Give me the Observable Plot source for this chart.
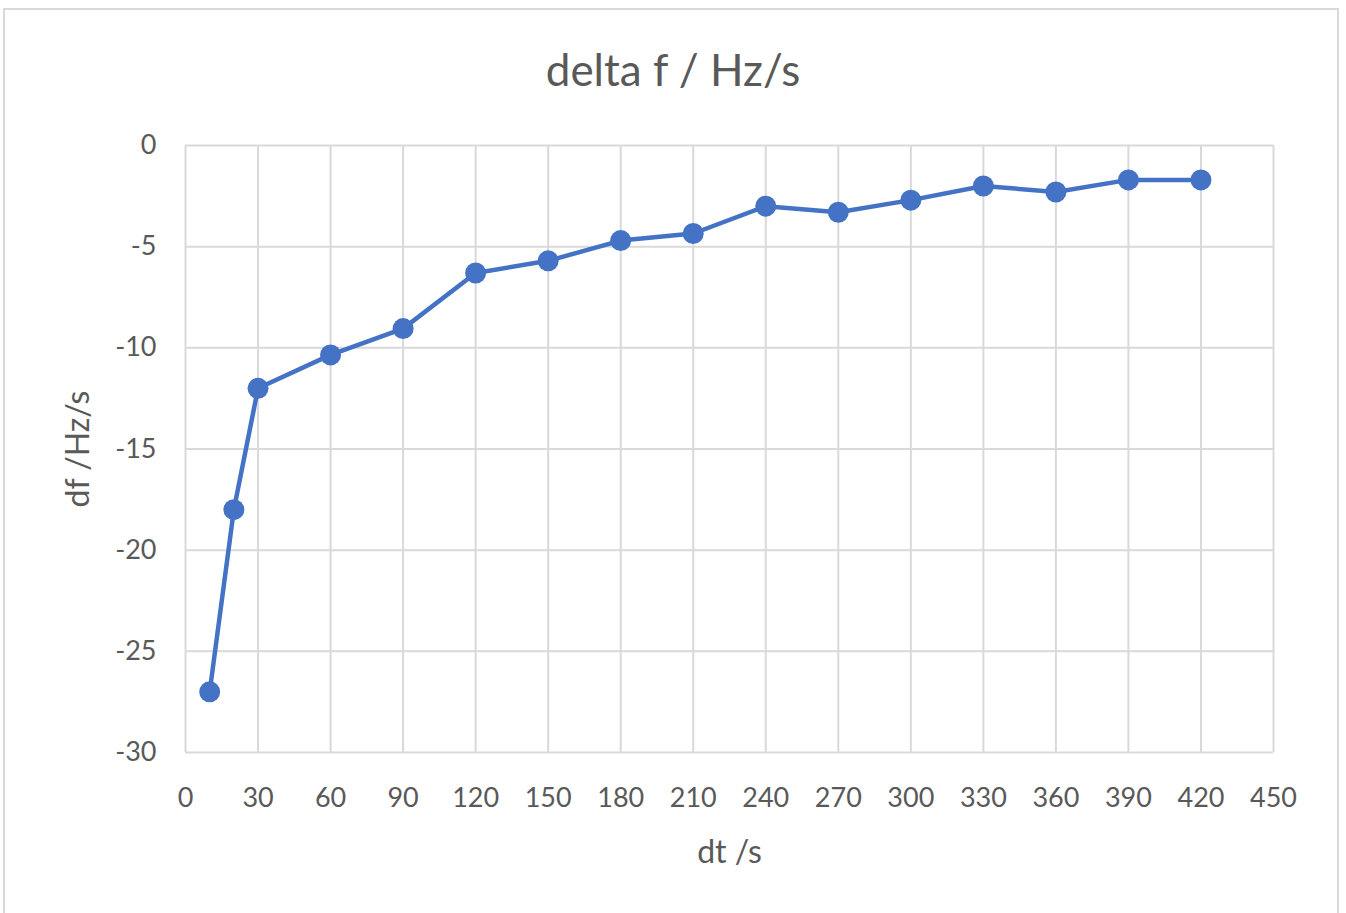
<!DOCTYPE html>
<html>
<head>
<meta charset="utf-8">
<script src="https://cdn.jsdelivr.net/npm/d3@7"></script>
<script src="https://cdn.jsdelivr.net/npm/@observablehq/plot@0.6"></script>
<style>
  html, body { margin: 0; padding: 0; background: #fff; width: 1346px; height: 913px; overflow: hidden; }
  #frame { position: absolute; left: 3px; top: 8px; width: 1336px; height: 920px; border: 2px solid #d9d9d9; box-sizing: border-box; }
  #title { position: absolute; left: 0; top: 43px; width: 1346px; text-align: center; font-family: Lato, "Open Sans", sans-serif; font-size: 44px; color: #595959; }
  #chart { position: absolute; left: 0; top: 0; }
</style>
</head>
<body>
<div id="frame"></div>
<div id="chart"></div>
<div id="title">delta f / Hz/s</div>
<script>
const dt = [10, 20, 30, 60, 90, 120, 150, 180, 210, 240, 270, 300, 330, 360, 390, 420];
const df = [-27, -18, -12, -10.35, -9.05, -6.3, -5.7, -4.7, -4.35, -3.0, -3.3, -2.7, -2.0, -2.3, -1.7, -1.7];
const xTicks = [0, 30, 60, 90, 120, 150, 180, 210, 240, 270, 300, 330, 360, 390, 420, 450];
const yTicks = [0, -5, -10, -15, -20, -25, -30];
const xLabel = "dt /s";
const yLabel = "df /Hz/s";

const data = dt.map((d, i) => ({dt: d, df: df[i]}));
const blue = "#4472C4";
const textColor = "#595959";
const fmt = d => String(d);

const plot = Plot.plot({
  width: 1346,
  height: 913,
  marginLeft: 185,
  marginRight: 73,
  marginTop: 145,
  marginBottom: 161,
  style: { fontFamily: "Lato, 'Open Sans', sans-serif", fontSize: "27px", color: textColor, background: "transparent" },
  x: { domain: [0, 450], ticks: xTicks },
  y: { domain: [-30, 0], ticks: yTicks },
  marks: [
    Plot.gridX(xTicks, { stroke: "#d9d9d9", strokeOpacity: 1, strokeWidth: 2 }),
    Plot.gridY(yTicks, { stroke: "#d9d9d9", strokeOpacity: 1, strokeWidth: 2 }),
    Plot.axisX(xTicks, { tickSize: 0, tickPadding: 35, fill: textColor, fontSize: 27, tickFormat: fmt, label: null }),
    Plot.axisY(yTicks, { tickSize: 0, tickPadding: 29, fill: textColor, fontSize: 27, tickFormat: fmt, label: null }),
    Plot.text([xLabel], { text: d => d, frameAnchor: "bottom", dy: 110, fontSize: 32, fill: textColor }),
    Plot.text([yLabel], { text: d => d, frameAnchor: "left", textAnchor: "middle", dx: -107, rotate: -90, fontSize: 32, fill: textColor }),
    Plot.line(data, { x: "dt", y: "df", stroke: blue, strokeWidth: 4.5 }),
    Plot.dot(data, { x: "dt", y: "df", r: 10.5, fill: blue, stroke: "none" })
  ]
});
document.getElementById("chart").appendChild(plot);
</script>
</body>
</html>
